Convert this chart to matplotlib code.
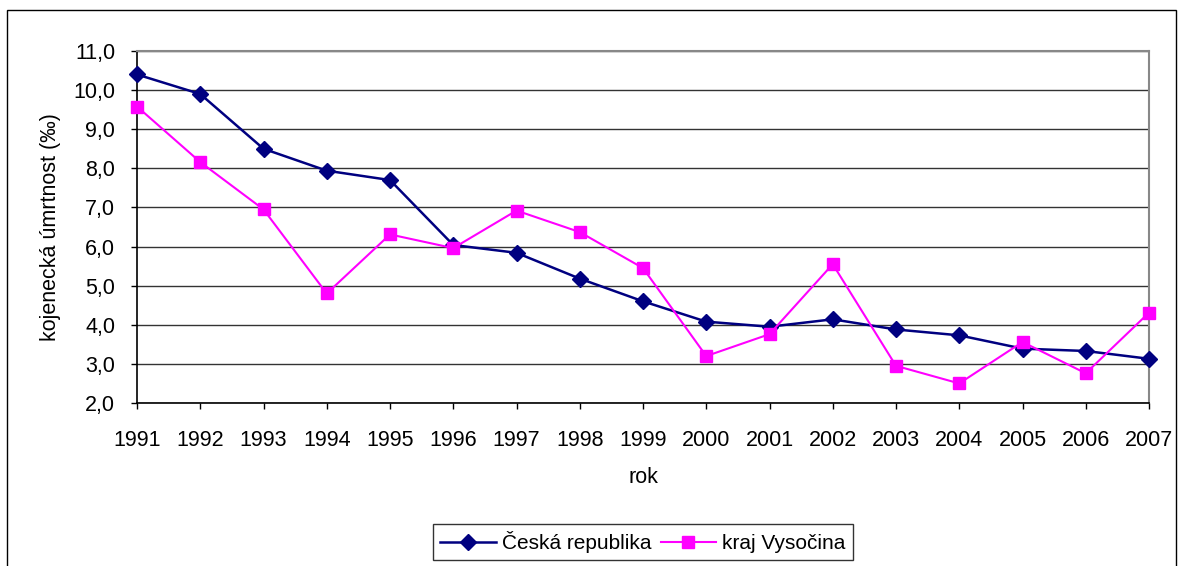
import matplotlib
matplotlib.use("Agg")
import matplotlib.pyplot as plt
from matplotlib.patches import Rectangle
from matplotlib.ticker import FuncFormatter, MultipleLocator

# Kojenecká úmrtnost 1991-2007
years = [1991, 1992, 1993, 1994, 1995, 1996, 1997, 1998, 1999,
         2000, 2001, 2002, 2003, 2004, 2005, 2006, 2007]
ceska_republika = [10.4, 9.9, 8.5, 7.94, 7.7, 6.04, 5.84, 5.18, 4.6,
                   4.08, 3.95, 4.14, 3.88, 3.73, 3.39, 3.33, 3.13]
kraj_vysocina = [9.58, 8.16, 6.95, 4.8, 6.31, 5.96, 6.92, 6.37, 5.45,
                 3.2, 3.76, 5.55, 2.95, 2.5, 3.56, 2.76, 4.31]

NAVY = "#000080"
MAGENTA = "#ff00ff"
FS = 15.5

plt.rcParams["font.family"] = ["Liberation Sans", "DejaVu Sans"]

fig = plt.figure(figsize=(11.83, 5.66), dpi=100)
fig.patch.set_facecolor("white")

# vnější rámeček grafu
fig.patches.append(Rectangle((7 / 1183, -0.05), 1169 / 1183, 1.05 - 10 / 566,
                             transform=fig.transFigure, fill=False,
                             edgecolor="black", linewidth=1.0))

ax = fig.add_axes([137 / 1183, 1 - 403 / 566, (1149 - 137) / 1183, (403 - 51) / 566])
x = range(len(years))

ax.plot(x, ceska_republika, color=NAVY, linewidth=1.8, marker="D",
        markersize=8.5, markerfacecolor=NAVY, markeredgecolor=NAVY,
        label="Česká republika", zorder=3, clip_on=False)
ax.plot(x, kraj_vysocina, color=MAGENTA, linewidth=1.5, marker="s",
        markersize=9, markerfacecolor=MAGENTA, markeredgecolor=MAGENTA,
        label="kraj Vysočina", zorder=4, clip_on=False)

ax.set_xlim(0, len(years) - 1)
ax.set_ylim(2, 11)
ax.yaxis.set_major_locator(MultipleLocator(1))
ax.yaxis.set_major_formatter(FuncFormatter(lambda v, _: f"{v:.1f}".replace(".", ",")))
ax.set_xticks(list(x))
ax.set_xticklabels([str(y) for y in years])

ax.grid(axis="y", color="#333333", linewidth=1.0)
ax.set_axisbelow(True)

ax.tick_params(axis="both", direction="out", length=4.3, width=1.0,
               labelsize=FS, colors="black")
ax.tick_params(axis="x", pad=15)
ax.tick_params(axis="y", pad=11.5)

for side in ("top", "right"):
    ax.spines[side].set_color("#888888")
    ax.spines[side].set_linewidth(1.5)
for side in ("left", "bottom"):
    ax.spines[side].set_color("black")
    ax.spines[side].set_linewidth(1.2)

ax.set_ylabel("kojenecká úmrtnost (‰)", fontsize=FS, labelpad=9)
ax.set_xlabel("rok", fontsize=FS, labelpad=11.5)

leg = fig.legend(loc="center", bbox_to_anchor=(643 / 1183, 1 - 542 / 566),
                 ncol=2, frameon=True, fancybox=False, fontsize=15,
                 handlelength=2.65, columnspacing=0.45, handletextpad=0.3,
                 borderpad=0.35, borderaxespad=0, edgecolor="black")
leg.get_frame().set_linewidth(1.0)

fig.savefig("out.png", dpi=100, facecolor="white")
